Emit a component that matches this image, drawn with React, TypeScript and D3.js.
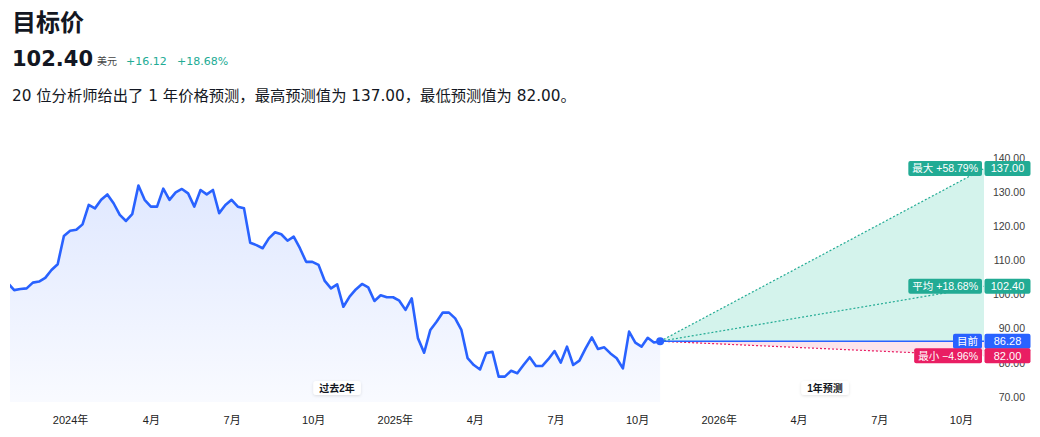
import { useEffect, useRef } from 'react';
import * as d3 from 'd3';

// weekly closes, first week starting 2023-10-23
const historyStart = new Date(2023, 9, 23);
const historyValues = [
  103.3, 101.3, 101.6, 101.8, 103.5, 103.8, 104.9, 107.2, 108.9, 117.2,
  118.7, 119.0, 120.6, 126.3, 125.3, 127.8, 129.4, 126.8, 123.4, 121.6,
  123.6, 132.0, 127.8, 125.8, 125.8, 131.1, 127.8, 130.0, 131.0, 129.7,
  125.8, 130.7, 129.4, 130.7, 123.9, 126.3, 127.8, 125.8, 125.3, 115.2,
  114.5, 113.6, 116.5, 118.3, 117.7, 115.8, 117.0, 113.6, 109.6, 109.6,
  108.7, 104.0, 101.8, 103.0, 96.4, 99.4, 101.5, 103.1, 102.1, 98.1,
  99.8, 99.2, 99.2, 98.2, 95.5, 98.9, 87.2, 82.9, 89.6, 92.0,
  94.7, 94.7, 93.0, 89.6, 81.3, 79.3, 78.0, 82.8, 83.2, 75.9,
  75.9, 77.6, 76.9, 79.3, 81.6, 79.0, 79.0, 81.0, 83.4, 80.0,
  84.7, 79.3, 80.6, 84.2, 87.4, 84.0, 84.5, 82.7, 81.3, 78.3,
  89.1, 85.9, 84.7, 87.3, 85.9, 86.28,
];
const forecastEnd = new Date(2026, 9, 27);

const targetNames = ['最大', '平均', '最小'];
const targetValues = [137.0, 102.4, 82.0];
const currentName = '目前';
const analystCount = 20;
const periodLabels = ['过去2年', '1年预测'];
const yTicks = [70, 80, 90, 100, 110, 120, 130, 140];

const TEAL = '#22ab94';
const BLUE = '#2962ff';
const PINK = '#e91e63';
const INK = '#131722';
const CJK = '"Noto Sans CJK SC"';
const UI_FONT = `"DejaVu Sans", ${CJK}, sans-serif`;
const AX_FONT = `"Liberation Sans", ${CJK}, sans-serif`;

export default function App() {
  const svgRef = useRef<SVGSVGElement>(null);

  useEffect(() => {
    if (!svgRef.current) return;
    const svg = d3.select(svgRef.current);
    svg.selectAll('*').remove();

    const current = historyValues[historyValues.length - 1];
    const [maxT, avgT, minT] = targetValues;
    const dates = historyValues.map((_, i) => d3.timeWeek.offset(historyStart, i));
    const lastDate = dates[dates.length - 1];

    const x = d3.scaleTime().domain([historyStart, forecastEnd]).range([8, 984]);
    const y = d3.scaleLinear().domain([70, 140]).range([396.7, 158.3]);
    const plotLeft = 10;
    const plotRight = x(forecastEnd);
    const plotBottom = 402;

    // header
    const head = svg.append('g').attr('font-family', UI_FONT).attr('fill', INK);
    head.append('text').attr('x', 12).attr('y', 31).attr('font-size', 24).attr('font-weight', 700).text('目标价');
    head.append('text').attr('x', 12).attr('y', 65.5).attr('font-size', 21).attr('font-weight', 700)
      .text(avgT.toFixed(2));
    head.append('text').attr('x', 97).attr('y', 65).attr('font-size', 10).attr('fill', '#444').text('美元');
    const diff = avgT - current;
    const pct = (v: number) => {
      const ch = (v / current - 1) * 100;
      return `${ch >= 0 ? '+' : '\u2212'}${Math.abs(ch).toFixed(2)}%`;
    };
    head.append('text').attr('x', 126).attr('y', 65).attr('font-size', 11).attr('fill', TEAL)
      .text(`+${diff.toFixed(2)}`);
    head.append('text').attr('x', 177).attr('y', 65).attr('font-size', 11).attr('fill', TEAL).text(pct(avgT));
    head.append('text').attr('x', 12).attr('y', 101).attr('font-size', 15.3)
      .text(`${analystCount} 位分析师给出了 1 年价格预测，最高预测值为 ${maxT.toFixed(2)}，最低预测值为 ${minT.toFixed(2)}。`);

    const defs = svg.append('defs');
    defs.append('clipPath').attr('id', 'plotClip').append('rect')
      .attr('x', plotLeft).attr('y', 140).attr('width', plotRight - plotLeft).attr('height', plotBottom - 140);
    const grad = defs.append('linearGradient').attr('id', 'histGrad')
      .attr('gradientUnits', 'userSpaceOnUse').attr('x1', 0).attr('x2', 0).attr('y1', 160).attr('y2', plotBottom);
    grad.append('stop').attr('offset', '0%').attr('stop-color', BLUE).attr('stop-opacity', 0.16);
    grad.append('stop').attr('offset', '100%').attr('stop-color', BLUE).attr('stop-opacity', 0.03);
    const shadow = defs.append('filter').attr('id', 'badgeShadow').attr('x', '-30%').attr('y', '-50%')
      .attr('width', '160%').attr('height', '200%');
    shadow.append('feDropShadow').attr('dx', 0).attr('dy', 1).attr('stdDeviation', 1.5)
      .attr('flood-color', '#000').attr('flood-opacity', 0.12);

    const plot = svg.append('g').attr('clip-path', 'url(#plotClip)');

    // history
    const pts = historyValues.map((v, i) => ({ d: dates[i], v }));
    plot.append('path').datum(pts).attr('fill', 'url(#histGrad)')
      .attr('d', d3.area<(typeof pts)[0]>().x((p) => x(p.d)).y0(plotBottom).y1((p) => y(p.v)));

    // forecast fans
    const x0 = x(lastDate);
    const y0 = y(current);
    const x1 = plotRight;
    plot.append('path').attr('fill', 'rgba(38,196,160,0.2)')
      .attr('d', d3.line()([[x0, y0], [x1, y(maxT)], [x1, y(current)]]) + 'Z');
    plot.append('path').attr('fill', 'rgba(233,30,99,0.12)')
      .attr('d', d3.line()([[x0, y0], [x1, y(current)], [x1, y(minT)]]) + 'Z');
    const fanColors = [TEAL, TEAL, PINK];
    targetValues.forEach((t, i) => {
      plot.append('line').attr('x1', x0).attr('y1', y0).attr('x2', x1).attr('y2', y(t))
        .attr('stroke', fanColors[i]).attr('stroke-width', 1.2).attr('stroke-dasharray', '2,2');
    });
    plot.append('line').attr('x1', x0).attr('y1', y0).attr('x2', x1).attr('y2', y0)
      .attr('stroke', BLUE).attr('stroke-width', 1.5);

    plot.append('path').datum(pts).attr('fill', 'none').attr('stroke', BLUE).attr('stroke-width', 2.6)
      .attr('stroke-linejoin', 'round')
      .attr('d', d3.line<(typeof pts)[0]>().x((p) => x(p.d)).y((p) => y(p.v)));
    svg.append('circle').attr('cx', x0).attr('cy', y0).attr('r', 4).attr('fill', BLUE);

    // period badges
    const centers = [(plotLeft + x0) / 2 + 2, (x0 + plotRight) / 2 + 3];
    periodLabels.forEach((lab, i) => {
      const g = svg.append('g').attr('transform', `translate(${centers[i]},388)`);
      const txt = g.append('text').attr('text-anchor', 'middle').attr('dy', '0.35em')
        .attr('font-family', AX_FONT).attr('font-size', 10).attr('font-weight', 700).attr('fill', INK).text(lab);
      const w = (txt.node() as SVGTextElement).getComputedTextLength() + 12;
      g.insert('rect', 'text').attr('x', -w / 2).attr('y', -7).attr('width', w).attr('height', 14).attr('rx', 3)
        .attr('fill', '#fff').attr('filter', 'url(#badgeShadow)');
    });

    // bottom axis
    const ticks = d3.timeMonth.every(3)!.range(new Date(2024, 0, 1), forecastEnd);
    svg.append('g').attr('transform', `translate(0,${plotBottom + 8})`)
      .call(d3.axisBottom(x).tickValues(ticks).tickSize(0).tickPadding(6)
        .tickFormat((d) => {
          const dt = d as Date;
          return dt.getMonth() === 0 ? `${dt.getFullYear()}年` : `${dt.getMonth() + 1}月`;
        }))
      .call((gg) => {
        gg.select('.domain').remove();
        gg.selectAll('text').attr('font-family', AX_FONT).attr('font-size', 11).attr('fill', '#222');
      });

    // right axis (the tag boxes below sit over two of these labels, as in the original)
    svg.append('g').attr('transform', 'translate(1025,0)')
      .call(d3.axisRight(y).tickValues(yTicks).tickSize(0).tickPadding(0).tickFormat(d3.format('.2f')))
      .call((gg) => {
        gg.select('.domain').remove();
        gg.selectAll('text').attr('text-anchor', 'end').attr('x', 0)
          .attr('font-family', AX_FONT).attr('font-size', 10.5).attr('fill', '#3d3d3d');
      });

    // target tags
    const tags = [
      { name: `${targetNames[0]} ${pct(maxT)}`, v: maxT, c: TEAL },
      { name: `${targetNames[1]} ${pct(avgT)}`, v: avgT, c: TEAL },
      { name: currentName, v: current, c: BLUE },
      { name: `${targetNames[2]} ${pct(minT)}`, v: minT, c: PINK },
    ];
    tags.forEach((t) => {
      const cy = y(t.v);
      const g = svg.append('g').attr('font-family', AX_FONT).attr('font-size', 10.5).attr('fill', '#fff');
      const lab = g.append('text').attr('x', plotRight - 2 - 4).attr('y', cy).attr('dy', '0.36em')
        .attr('text-anchor', 'end').text(t.name);
      const lw = (lab.node() as SVGTextElement).getComputedTextLength() + 8;
      g.insert('rect', 'text').attr('x', plotRight - 2 - lw).attr('y', cy - 7.5).attr('width', lw).attr('height', 15)
        .attr('rx', 2).attr('fill', t.c);
      g.append('rect').attr('x', plotRight + 0.5).attr('y', cy - 7.5).attr('width', 46).attr('height', 15)
        .attr('rx', 2).attr('fill', t.c);
      g.append('text').attr('x', plotRight + 23.5).attr('y', cy).attr('dy', '0.36em').attr('text-anchor', 'middle')
        .attr('font-size', 11).text(t.v.toFixed(2));
    });
  }, []);

  return (
    <div style={{ position: 'absolute', left: 0, top: 0, width: 1040, height: 437, background: '#fff' }}>
      <svg ref={svgRef} width={1040} height={437} style={{ display: 'block' }} />
    </div>
  );
}
